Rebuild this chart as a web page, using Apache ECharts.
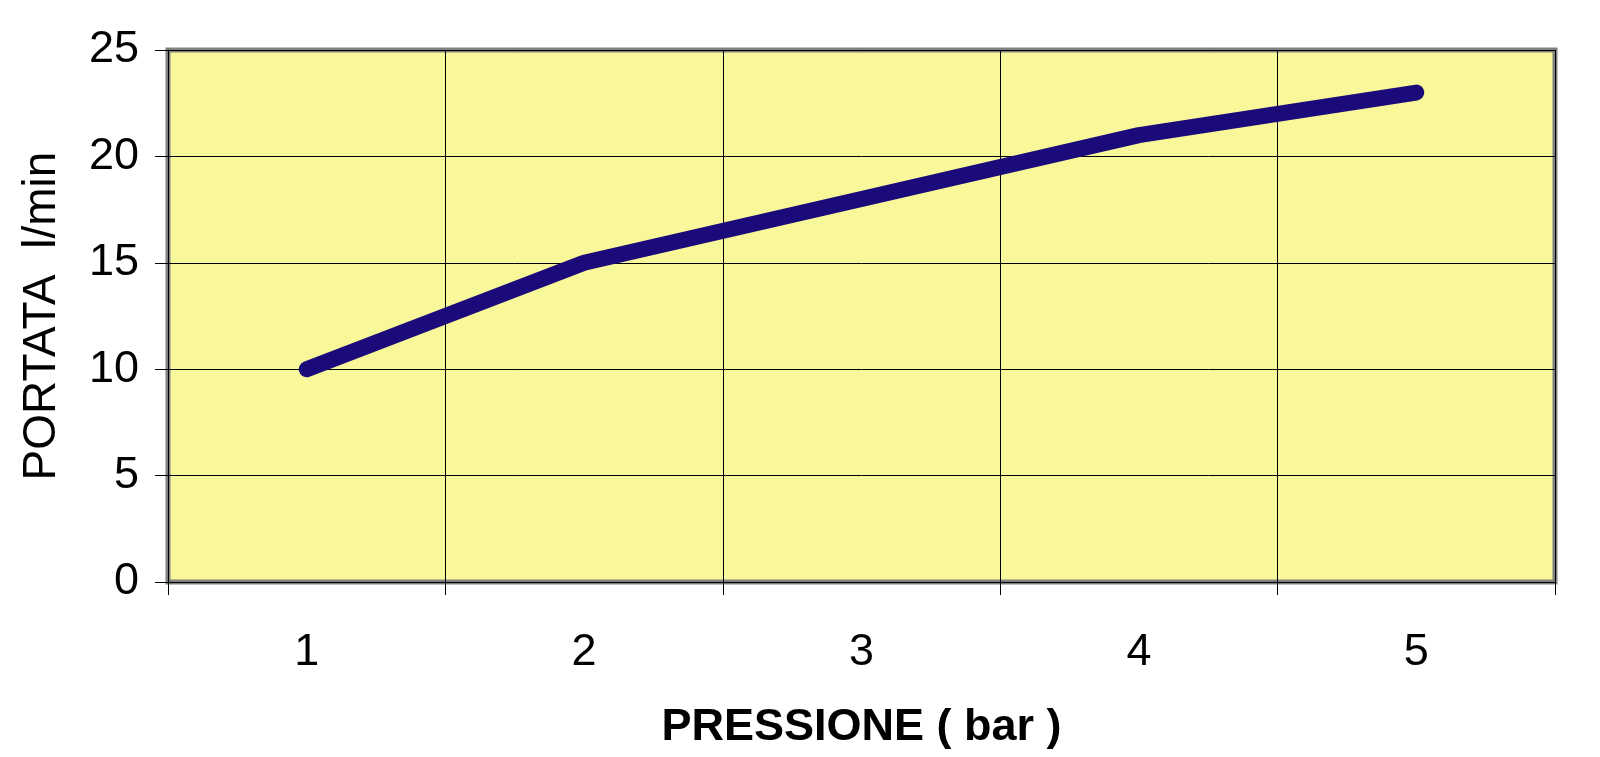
<!DOCTYPE html>
<html>
<head>
<meta charset="utf-8">
<style>html,body{margin:0;padding:0;background:#fff;}#c{width:1600px;height:757px;}</style>
<script src="https://cdn.jsdelivr.net/npm/echarts@6/dist/echarts.min.js"></script>
</head>
<body>
<div id="c"></div>
<script>
var categories = ['1', '2', '3', '4', '5'];
var portata = [10, 15, 18, 21, 23];
var xTitle = 'PRESSIONE ( bar )';
var yTitle = 'PORTATA  l/min';

var chart = echarts.init(document.getElementById('c'), null, {renderer: 'canvas'});
var font = 'Liberation Sans, Arial, sans-serif';
chart.setOption({
  animation: false,
  backgroundColor: '#ffffff',
  grid: {
    left: 168, right: 45, top: 50, bottom: 175,
    show: true, backgroundColor: '#F8F89A', borderColor: '#808080', borderWidth: 5
  },
  xAxis: {
    type: 'category',
    data: categories,
    boundaryGap: true,
    name: xTitle,
    nameLocation: 'middle',
    nameGap: 123,
    nameTextStyle: {fontFamily: font, fontSize: 45, fontWeight: 'bold', color: '#000'},
    axisLine: {show: true, lineStyle: {color: '#000', width: 1}},
    axisTick: {show: true, alignWithLabel: false, length: 13, lineStyle: {color: '#000', width: 1}},
    axisLabel: {fontFamily: font, fontSize: 45, color: '#000', margin: 48},
    splitLine: {show: true, lineStyle: {color: '#000', width: 1}}
  },
  yAxis: {
    type: 'value',
    min: 0, max: 25, interval: 5,
    name: yTitle,
    nameLocation: 'middle',
    nameGap: 103,
    nameRotate: 90,
    nameTextStyle: {fontFamily: font, fontSize: 46, color: '#000'},
    axisLine: {show: true, lineStyle: {color: '#000', width: 1}},
    axisTick: {show: true, length: 13, lineStyle: {color: '#000', width: 1}},
    axisLabel: {fontFamily: font, fontSize: 45, color: '#000', margin: 29},
    splitLine: {show: true, lineStyle: {color: '#000', width: 1}}
  },
  series: [{
    type: 'line',
    data: portata,
    symbol: 'none',
    lineStyle: {color: '#1B0A7A', width: 16, cap: 'round', join: 'round'}
  }]
});
</script>
</body>
</html>
